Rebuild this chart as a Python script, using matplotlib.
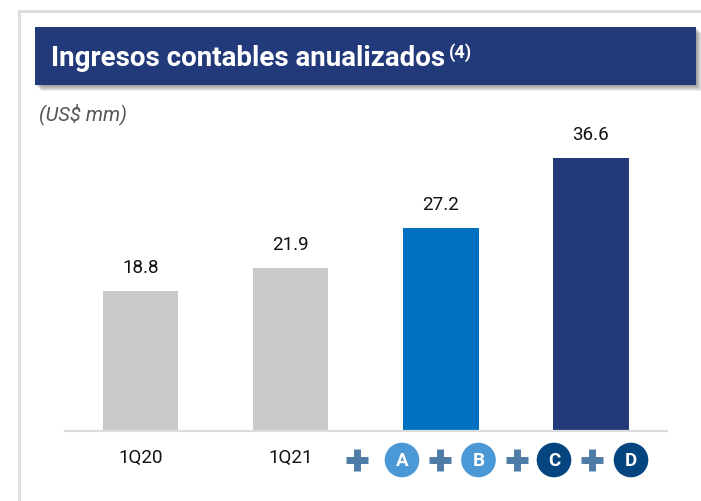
import matplotlib.pyplot as plt
from matplotlib.patches import Rectangle, Circle

plt.rcParams['font.family'] = ['Roboto', 'Liberation Sans', 'DejaVu Sans']

# Datos
categorias = ['1Q20', '1Q21', '', '']
valores = [18.8, 21.9, 27.2, 36.6]
colores = ['#c8c9ca', '#c8c9ca', '#0071c1', '#223a7a']
letras = ['A', 'B', 'C', 'D']
color_letras = ['#4a98d6', '#4a98d6', '#04457f', '#04457f']

fig = plt.figure(figsize=(7.01, 5.01), dpi=100)

# capa de fondo en pixeles (marco, titulo, iconos)
bg = fig.add_axes([0, 0, 1, 1])
bg.set_xlim(0, 701)
bg.set_ylim(501, 0)
bg.axis('off')

bg.plot([19, 19, 701], [501, 10.5, 10.5], color='#dedede', lw=2.2, solid_joinstyle='miter')

# sombra de la banda
for i in range(1, 7):
    bg.add_patch(Rectangle((35 + i, 27 + i), 661, 58, color='black', alpha=0.07, lw=0))
bg.add_patch(Rectangle((35, 27), 661, 58, color='#223a7a', lw=0))
bg.text(51, 58, 'Ingresos contables anualizados', color='white', fontsize=20,
        fontweight='bold', va='center', ha='left')
bg.text(449, 53, '(4)', color='white', fontsize=13, fontweight='bold', va='center', ha='left')
bg.text(39, 114, '(US$ mm)', color='#555555', fontsize=14.5, style='italic', va='center', ha='left')

# iconos de abajo
for x in [356.5, 440, 516.5, 592]:
    bg.plot([x], [460], marker='+', ms=15.5, mew=5, color='#4f7ca6', ls='none')
for x, letra, c in zip([402, 478.5, 554, 631], letras, color_letras):
    bg.add_patch(Circle((x, 460), 17.3, color=c, lw=0))
    bg.text(x, 460.5, letra, color='white', fontsize=13.5, fontweight='bold', ha='center', va='center')

# barras
ax = fig.add_axes([65 / 701, (501 - 431) / 501, 602 / 701, 331 / 501])
ax.patch.set_alpha(0)
pos = range(len(valores))
bars = ax.bar(pos, valores, width=0.503, color=colores)
for bar in bars:
    yval = bar.get_height()
    ax.text(bar.get_x() + bar.get_width() / 2, yval + 3.05, f'{yval:.1f}', ha='center', va='center',
            fontsize=13.5, color='#111111')
ax.set_xlim(-0.503, 3.507)
ax.set_ylim(0, 44.4)
ax.set_xticks(list(pos))
ax.set_xticklabels(categorias, fontsize=13.5, color='#111111')
ax.set_yticks([])
ax.tick_params(axis='x', length=0, pad=13)
for s in ['top', 'left', 'right']:
    ax.spines[s].set_visible(False)
ax.spines['bottom'].set_color('#dcdcdc')
ax.spines['bottom'].set_linewidth(1.6)

plt.savefig('out.png', dpi=100)
